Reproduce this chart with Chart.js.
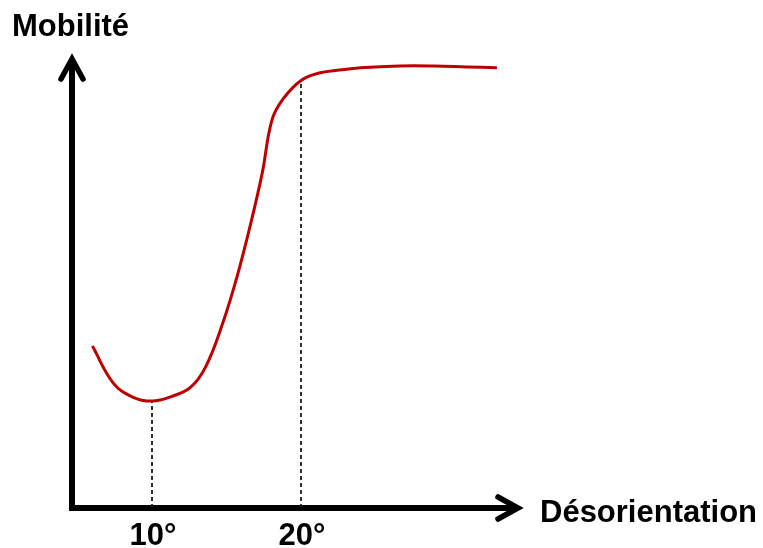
<!DOCTYPE html>
<html>
<head>
<meta charset="utf-8">
<script src="https://cdn.jsdelivr.net/npm/chart.js@4/dist/chart.umd.min.js"></script>
<style>
  body { margin: 0; background: #fff; }
  canvas { display: block; }
</style>
</head>
<body>
<canvas id="mobilite" width="763" height="548"></canvas>
<script>
// courbe mobilité vs désorientation
const desorientation = [6.0, 7.4, 8.7, 10.0, 11.3, 12.6, 13.6, 14.75, 15.7, 16.6, 17.4, 18.05, 18.8, 20.05, 21.3, 22.6, 24.0, 26.6, 28.9, 31.1, 33.15];
const mobilite = [35.9, 27.7, 24.6, 23.7, 24.7, 26.8, 31.3, 41.0, 51.2, 62.7, 74.3, 86.0, 90.7, 94.9, 96.5, 97.1, 97.6, 98.0, 98.0, 97.8, 97.6];
const tickValues = [10, 20];
const tickLabels = ["10°", "20°"];
const repereMin = 23.7;   // hauteur du trait pointillé à 10°
const repereMax = 94.9;   // hauteur du trait pointillé à 20°
const titreY = "Mobilité";
const titreX = "Désorientation";

const police = 'bold 31px "Liberation Sans", Arial, sans-serif';

const axes = {
  id: "axes",
  afterDraw(chart) {
    const c = chart.ctx;
    const x = chart.scales.x, y = chart.scales.y;
    const x0 = x.getPixelForValue(x.min);
    const y0 = y.getPixelForValue(0);
    const xEnd = x.getPixelForValue(x.max);
    const yEnd = y.getPixelForValue(y.max);
    c.save();
    c.strokeStyle = "#000";
    c.lineWidth = 6;
    c.lineCap = "butt";
    c.beginPath();
    c.moveTo(x0, y0 + 3);
    c.lineTo(x0, yEnd + 2);
    c.moveTo(x0 - 3, y0);
    c.lineTo(xEnd - 2, y0);
    c.stroke();
    // pointes de flèche
    c.lineCap = "round";
    c.lineJoin = "miter";
    c.lineWidth = 5.5;
    c.beginPath();
    c.moveTo(x0 - 11, yEnd + 22);
    c.lineTo(x0, yEnd + 2);
    c.lineTo(x0 + 11, yEnd + 22);
    c.moveTo(xEnd - 22, y0 - 11);
    c.lineTo(xEnd - 2, y0);
    c.lineTo(xEnd - 22, y0 + 11);
    c.stroke();
    // textes
    c.fillStyle = "#000";
    c.font = police;
    c.textBaseline = "alphabetic";
    c.textAlign = "left";
    c.fillText(titreY, 12, 36);
    c.fillText(titreX, 540, 522);
    c.textAlign = "center";
    tickValues.forEach((v, i) => {
      c.fillText(tickLabels[i], x.getPixelForValue(v) + 1, 545);
    });
    c.restore();
  }
};

new Chart(document.getElementById("mobilite"), {
  type: "line",
  data: {
    datasets: [
      {
        data: desorientation.map((d, i) => ({ x: d, y: mobilite[i] })),
        borderColor: "#c00000",
        borderWidth: 3,
        pointRadius: 0,
        tension: 0.4
      },
      {
        data: [{ x: tickValues[0], y: 0 }, { x: tickValues[0], y: repereMin }],
        borderColor: "#000",
        borderWidth: 1.6,
        borderDash: [4, 3],
        pointRadius: 0
      },
      {
        data: [{ x: tickValues[1], y: 0 }, { x: tickValues[1], y: repereMax }],
        borderColor: "#000",
        borderWidth: 1.6,
        borderDash: [4, 3],
        pointRadius: 0
      }
    ]
  },
  options: {
    responsive: false,
    animation: false,
    layout: { padding: { left: 72, right: 243, top: 57, bottom: 40 } },
    plugins: { legend: { display: false }, tooltip: { enabled: false } },
    scales: {
      x: { type: "linear", min: 4.63, max: 34.7, display: false },
      y: { type: "linear", min: 0, max: 100, display: false }
    }
  },
  plugins: [axes]
});
</script>
</body>
</html>
